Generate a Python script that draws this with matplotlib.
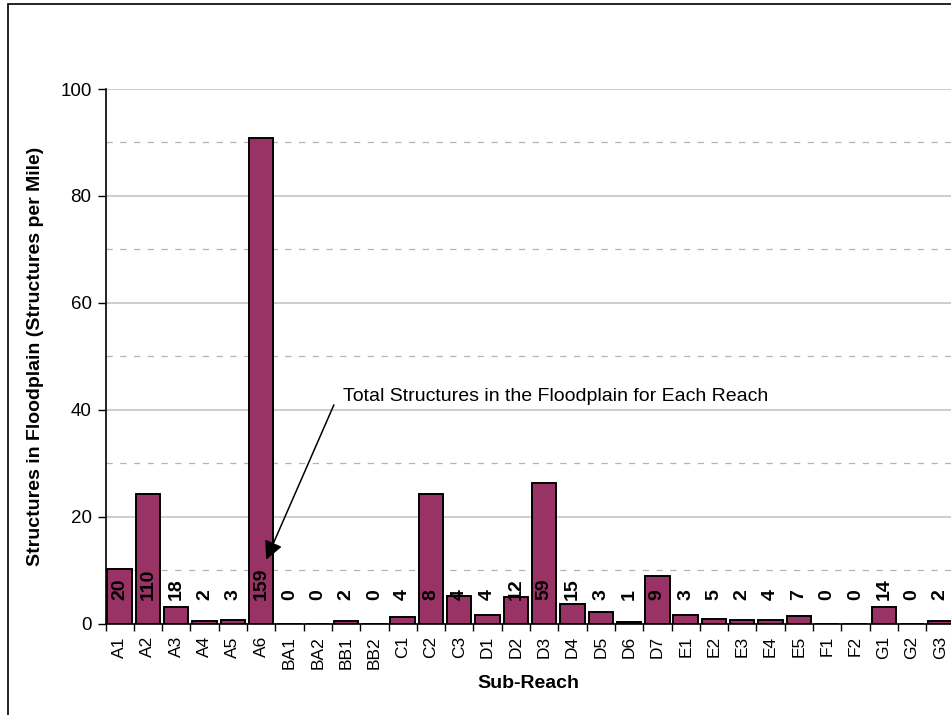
import matplotlib
matplotlib.use("Agg")
import matplotlib.pyplot as plt
from matplotlib.patches import Rectangle
from matplotlib.ticker import MultipleLocator

plt.rcParams['font.family'] = ['Liberation Sans', 'DejaVu Sans']

reaches = ["A1", "A2", "A3", "A4", "A5", "A6", "BA1", "BA2", "BB1", "BB2",
           "C1", "C2", "C3", "D1", "D2", "D3", "D4", "D5", "D6", "D7",
           "E1", "E2", "E3", "E4", "E5", "F1", "F2", "G1", "G2", "G3"]
per_mile = [10.3, 24.2, 3.2, 0.45, 0.6, 90.9, 0, 0, 0.45, 0,
            1.2, 24.3, 5.2, 1.7, 5.0, 26.4, 3.6, 2.2, 0.25, 9.0,
            1.7, 0.8, 0.6, 0.6, 1.5, 0, 0, 3.2, 0, 0.45]
totals = [20, 110, 18, 2, 3, 159, 0, 0, 2, 0,
          4, 8, 4, 4, 12, 59, 15, 3, 1, 9,
          3, 5, 2, 4, 7, 0, 0, 14, 0, 2]

W, H = 951, 715
fig = plt.figure(figsize=(W / 100, H / 100), dpi=100)
ax = fig.add_axes([105.5 / W, 91.3 / H, 849 / W, 534.7 / H])

x = list(range(len(reaches)))
ax.bar(x, per_mile, width=0.86, color="#993366", edgecolor="black",
       linewidth=1.4, zorder=3)

# total count per reach, written sideways above the baseline
for xi, t in zip(x, totals):
    ax.text(xi, 4.45, str(t), rotation=90, ha="center", va="bottom",
            fontsize=14, fontweight="bold", zorder=4)

ax.set_xlim(-0.5, len(reaches) - 0.5)
ax.set_ylim(0, 100)

ax.yaxis.set_major_locator(MultipleLocator(20))
ax.yaxis.set_minor_locator(MultipleLocator(10))
ax.grid(axis="y", which="major", color="#c0c0c0", linewidth=1.1, zorder=0)
ax.grid(axis="y", which="minor", color="#b4b4b4", linewidth=0.9,
        linestyle=(0, (5, 6)), zorder=0)
ax.tick_params(axis="y", which="minor", length=0)
ax.tick_params(axis="y", which="major", length=6, width=1, pad=4,
               labelsize=13.5)

# category ticks sit on the boundaries, names at the centres
ax.set_xticks([i - 0.5 for i in range(len(reaches) + 1)])
ax.set_xticklabels([])
ax.set_xticks(x, minor=True)
ax.set_xticklabels(reaches, minor=True, rotation=90, fontsize=12.5)
ax.tick_params(axis="x", which="major", length=5, width=1)
ax.tick_params(axis="x", which="minor", length=0, pad=9)

for s in ["top", "right"]:
    ax.spines[s].set_visible(False)
ax.spines["left"].set_linewidth(1.2)
ax.spines["bottom"].set_linewidth(1.2)

ax.annotate("", xy=(5.14, 11.5), xytext=(7.61, 41.4),
            arrowprops=dict(arrowstyle="-|>", color="black", lw=1.1,
                            mutation_scale=28), zorder=5)
ax.text(7.89, 42.4, "Total Structures in the Floodplain for Each Reach",
        fontsize=14, ha="left", va="center", zorder=5)

fig.text(35.5 / W, 1 - 356 / H,
         "Structures in Floodplain (Structures per Mile)",
         rotation=90, ha="center", va="center", fontsize=14,
         fontweight="bold")
fig.text(528 / W, 1 - 683 / H, "Sub-Reach", ha="center", va="center",
         fontsize=14, fontweight="bold")

fig.patches.append(Rectangle((8 / W, -0.1), 1.2, 1.1 - 4 / H,
                             transform=fig.transFigure, fill=False,
                             edgecolor="black", linewidth=1.2))

fig.savefig("out.png", dpi=100)
